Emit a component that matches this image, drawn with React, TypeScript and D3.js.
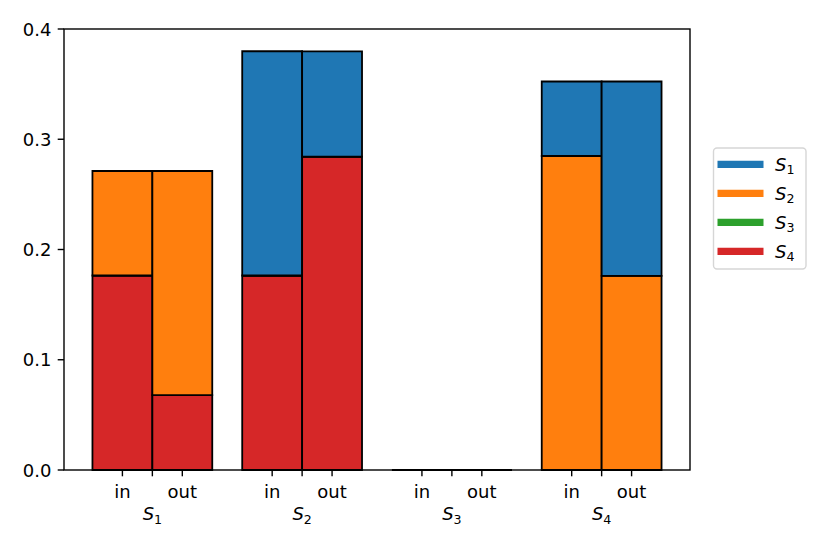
import React from "react";
import * as d3 from "d3";

// groups on the x axis and the in/out sub-bars
const groups = ["1", "2", "3", "4"];
const sides = ["in", "out"];
const seriesKeys = ["S1", "S2", "S3", "S4"];
const seriesColors = ["#1f77b4", "#ff7f0e", "#2ca02c", "#d62728"];

// values per series, one entry per group
const inS1 = [0, 0.2034, 0, 0.0676];
const inS2 = [0.0948, 0, 0, 0.2848];
const inS3 = [0, 0, 0, 0];
const inS4 = [0.1764, 0.1764, 0, 0];

const outS1 = [0, 0.0955, 0, 0.1764];
const outS2 = [0.2033, 0, 0, 0.176];
const outS3 = [0, 0, 0, 0];
const outS4 = [0.0679, 0.2842, 0, 0];

const yTicks = [0, 0.1, 0.2, 0.3, 0.4];

const W = 830;
const H = 554;
const margin = { top: 29, right: 140, bottom: 84, left: 64 };
const barW = 0.4;

function Sub({ n, size }: { n: string; size: number }) {
  return (
    <>
      <tspan fontStyle="italic">S</tspan>
      <tspan fontSize={size * 0.7} dy={size * 0.2}>
        {n}
      </tspan>
    </>
  );
}

export default function App() {
  const width = W - margin.left - margin.right;
  const height = H - margin.top - margin.bottom;

  const x = d3.scaleLinear().domain([-0.59, 3.59]).range([0, width]);
  const y = d3.scaleLinear().domain([0, 0.4]).range([height, 0]);

  const table = [
    { side: "in", rows: groups.map((g, i) => ({ g: i, S1: inS1[i], S2: inS2[i], S3: inS3[i], S4: inS4[i] })) },
    { side: "out", rows: groups.map((g, i) => ({ g: i, S1: outS1[i], S2: outS2[i], S3: outS3[i], S4: outS4[i] })) },
  ];

  // stacked bottom to top: S4, S3, S2, S1
  const stack = d3.stack<any>().keys(["S4", "S3", "S2", "S1"]);

  const fs = 18;
  const font = "DejaVu Sans, sans-serif";

  return (
    <svg width={W} height={H} style={{ position: "absolute", left: 0, top: 0 }} fontFamily={font}>
      <g transform={`translate(${margin.left},${margin.top})`}>
        {table.map((t, si) => {
          const off = si === 0 ? -barW / 2 : barW / 2;
          return stack(t.rows).map((layer) =>
            layer.map((d, gi) => {
              const x0 = x(gi + off - barW / 2);
              const x1 = x(gi + off + barW / 2);
              const y0 = y(d[0]);
              const y1 = y(d[1]);
              const color = seriesColors[seriesKeys.indexOf(layer.key)];
              return (
                <path
                  key={`${t.side}-${layer.key}-${gi}`}
                  d={`M${x0},${y0}H${x1}V${y1}H${x0}Z`}
                  fill={color}
                  stroke="#000"
                  strokeWidth={1.8}
                  strokeLinejoin="miter"
                />
              );
            })
          );
        })}

        {/* frame */}
        <rect x={0} y={0} width={width} height={height} fill="none" stroke="#000" strokeWidth={1.4} />

        {/* y axis */}
        {yTicks.map((v) => (
          <g key={v} transform={`translate(0,${y(v)})`}>
            <line x1={-6.3} x2={0} stroke="#000" strokeWidth={1.4} />
            <text x={-12.6} y={6.5} textAnchor="end" fontSize={fs}>
              {d3.format(".1f")(v)}
            </text>
          </g>
        ))}

        {/* x axis: in/out ticks and group ticks */}
        {groups.map((g, gi) => (
          <g key={g}>
            {sides.map((s, si) => {
              const px = x(gi + (si === 0 ? -barW / 2 : barW / 2));
              return (
                <g key={s}>
                  <line x1={px} x2={px} y1={height} y2={height + 6.3} stroke="#000" strokeWidth={1.4} />
                  <text x={px} y={height + 28} textAnchor="middle" fontSize={fs}>
                    {s}
                  </text>
                </g>
              );
            })}
            <line x1={x(gi)} x2={x(gi)} y1={height} y2={height + 6.3} stroke="#000" strokeWidth={1.4} />
            <text x={x(gi)} y={height + 50} textAnchor="middle" fontSize={fs}>
              <Sub n={g} size={fs} />
            </text>
          </g>
        ))}
      </g>

      {/* legend */}
      <g transform="translate(713.5,148)">
        <rect x={0} y={0} width={92.5} height={121} rx={3.5} fill="#fff" fillOpacity={0.8} stroke="#d6d6d6" strokeWidth={1.4} />
        {seriesKeys.map((k, i) => (
          <g key={k} transform={`translate(0,${16.3 + i * 29})`}>
            <line x1={4} x2={50} stroke={seriesColors[i]} strokeWidth={7.2} />
            <text x={61.5} y={6.4} fontSize={fs}>
              <Sub n={String(i + 1)} size={fs} />
            </text>
          </g>
        ))}
      </g>
    </svg>
  );
}
